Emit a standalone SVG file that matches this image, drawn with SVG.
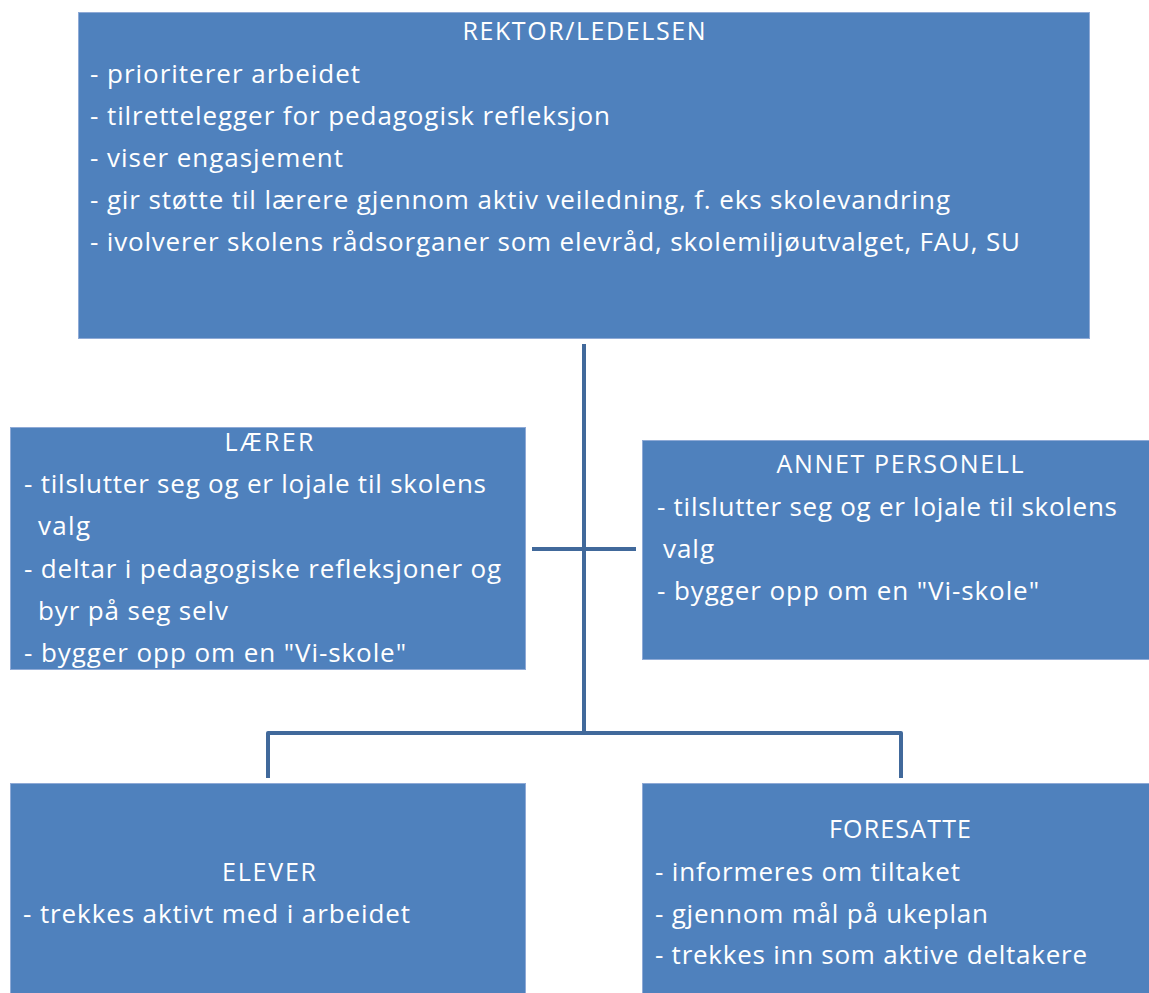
<svg xmlns="http://www.w3.org/2000/svg" width="1149" height="993" viewBox="0 0 1149 993">
<style>
.box{fill:#4F81BD;stroke:#8FAAD6;stroke-width:1}
.t{font-family:"Open Sans","Liberation Sans",sans-serif;font-size:26px;fill:#FFFFFF;font-variant-ligatures:none}
.c{text-anchor:middle;font-size:25px}
.conn{fill:none;stroke:#41699B;stroke-width:4;stroke-linejoin:round}
</style>
<rect width="1149" height="993" fill="#FFFFFF"/>
<g id="connectors">
<path class="conn" d="M584,344 V733"/>
<path class="conn" d="M532,549 H636"/>
<path class="conn" d="M268,778 V733 H901 V778"/>
</g>
<g id="rektor">
<rect class="box" x="78.5" y="12.5" width="1011" height="326"/>
<text class="t c" x="584" y="40" textLength="243">REKTOR/LEDELSEN</text>
<text class="t" x="90" y="83" textLength="270">- prioriterer arbeidet</text>
<text class="t" x="90" y="125" textLength="520">- tilrettelegger for pedagogisk refleksjon</text>
<text class="t" x="90" y="167" textLength="253">- viser engasjement</text>
<text class="t" x="90" y="209" textLength="860">- gir støtte til lærere gjennom aktiv veiledning, f. eks skolevandring</text>
<text class="t" x="90" y="251" textLength="930">- ivolverer skolens rådsorganer som elevråd, skolemiljøutvalget, FAU, SU</text>
</g>
<g id="laerer">
<rect class="box" x="10.5" y="427.5" width="515" height="242"/>
<text class="t c" x="269" y="451" textLength="89">LÆRER</text>
<text class="t" x="24" y="493" textLength="462">- tilslutter seg og er lojale til skolens</text>
<text class="t" x="38" y="535" textLength="52">valg</text>
<text class="t" x="24" y="578" textLength="477">- deltar i pedagogiske refleksjoner og</text>
<text class="t" x="38" y="620" textLength="190">byr på seg selv</text>
<text class="t" x="24" y="662" textLength="382">- bygger opp om en "Vi-skole"</text>
</g>
<g id="annet">
<rect class="box" x="642.5" y="440.5" width="507" height="219"/>
<text class="t c" x="900" y="473" textLength="247">ANNET PERSONELL</text>
<text class="t" x="657" y="516" textLength="460">- tilslutter seg og er lojale til skolens</text>
<text class="t" x="663" y="558" textLength="51">valg</text>
<text class="t" x="657" y="600" textLength="382">- bygger opp om en "Vi-skole"</text>
</g>
<g id="elever">
<rect class="box" x="10.5" y="783.5" width="515" height="215"/>
<text class="t c" x="269" y="881" textLength="94">ELEVER</text>
<text class="t" x="23" y="923" textLength="387">- trekkes aktivt med i arbeidet</text>
</g>
<g id="foresatte">
<rect class="box" x="642.5" y="783.5" width="507" height="215"/>
<text class="t c" x="900" y="838" textLength="142">FORESATTE</text>
<text class="t" x="655" y="881" textLength="305">- informeres om tiltaket</text>
<text class="t" x="655" y="923" textLength="333">- gjennom mål på ukeplan</text>
<text class="t" x="655" y="964" textLength="432">- trekkes inn som aktive deltakere</text>
</g>
</svg>
